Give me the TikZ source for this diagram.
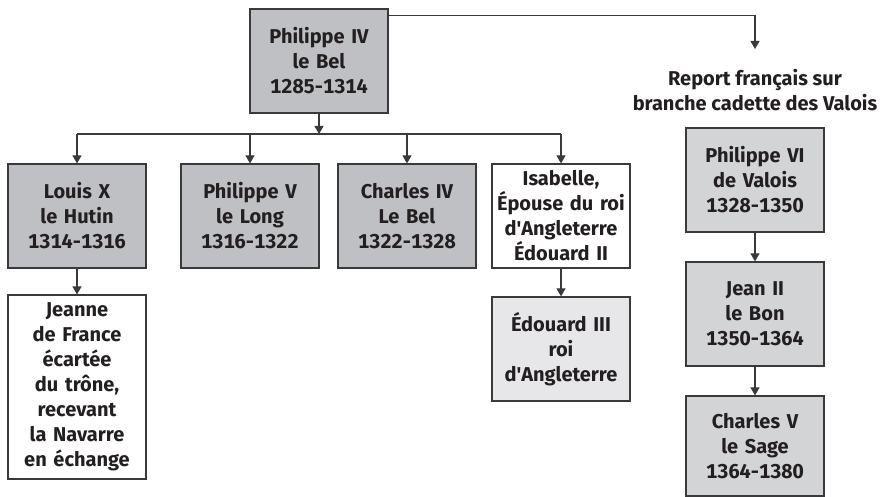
\documentclass[tikz,border=0pt]{standalone}
\usepackage{fontspec}
\setmainfont{Fira Sans}[Numbers=Monospaced]
\usetikzlibrary{arrows.meta}

\definecolor{boxline}{HTML}{3A3A3C}
\definecolor{textdark}{HTML}{231F20}
\definecolor{royal}{HTML}{BFC0C3}
\definecolor{valois}{HTML}{D3D4D6}
\definecolor{anglais}{HTML}{E7E7E9}

\tikzset{
  king/.style={draw=boxline, line width=1.2pt, text=textdark,
    minimum width=138pt, minimum height=104pt, inner sep=0pt,
    text width=134pt, align=center,
    font=\fontsize{20}{25}\selectfont\bfseries},
  arr/.style={draw=boxline, line width=1.1pt,
    -{Triangle[width=9pt,length=8pt]}},
  bus/.style={draw=boxline, line width=1.1pt}
}

\begin{document}
\begin{tikzpicture}[x=1pt,y=-1pt]
        \useasboundingbox (0,0) rectangle (882,497);

        % draw nodes
        \node[king, fill=royal] (p4) at (319,61) {Philippe IV\\le Bel\\1285-1314};

        \node[king, fill=royal] (louis) at (77,216) {Louis X\\le Hutin\\1314-1316};
        \node[king, fill=royal] (philv) at (250,216) {Philippe V\\le Long\\1316-1322};
        \node[king, fill=royal] (charlesiv) at (407,216) {Charles IV\\Le Bel\\1322-1328};
        \node[king, fill=white] (isab) at (561,216)
          {Isabelle,\\Épouse du roi\\d\textquotesingle Angleterre\\Édouard II};

        \node[king, fill=white, minimum height=184pt] (jeanne) at (77,387)
          {Jeanne\\de France\\écartée\\du trône,\\recevant\\la Navarre\\en échange};
        \node[king, fill=anglais] (edouard) at (561,349)
          {Édouard III\\roi\\d\textquotesingle Angleterre};

        \node[font=\fontsize{20}{25}\selectfont\bfseries, text=textdark, align=center]
          (report) at (755,90) {Report français sur\\branche cadette des Valois};
        \node[king, fill=valois] (pvi) at (755,180) {Philippe VI\\de Valois\\1328-1350};
        \node[king, fill=valois] (jean) at (755,314) {Jean II\\le Bon\\1350-1364};
        \node[king, fill=valois, minimum height=100pt] (charlesv) at (755,446) {Charles V\\le Sage\\1364-1380};

        % draw connectors
        \coordinate (busleft) at (77,134);
        \coordinate (busright) at (561,134);
        \coordinate (reporttip) at (755,49);

        \draw[arr] (p4) -- (p4 |- busleft);
        \draw[bus] (busleft) -- (busright);
        \foreach \child in {louis,philv,charlesiv,isab}
          \draw[arr] (\child |- busleft) -- (\child);

        \draw[arr] ([yshift=-7pt]p4.north east) -| (reporttip);
        \draw[arr] (louis) -- (jeanne);
        \draw[arr] (isab) -- (edouard);
        \draw[arr] (pvi) -- (jean);
        \draw[arr] (jean) -- (charlesv);
\end{tikzpicture}
\end{document}
